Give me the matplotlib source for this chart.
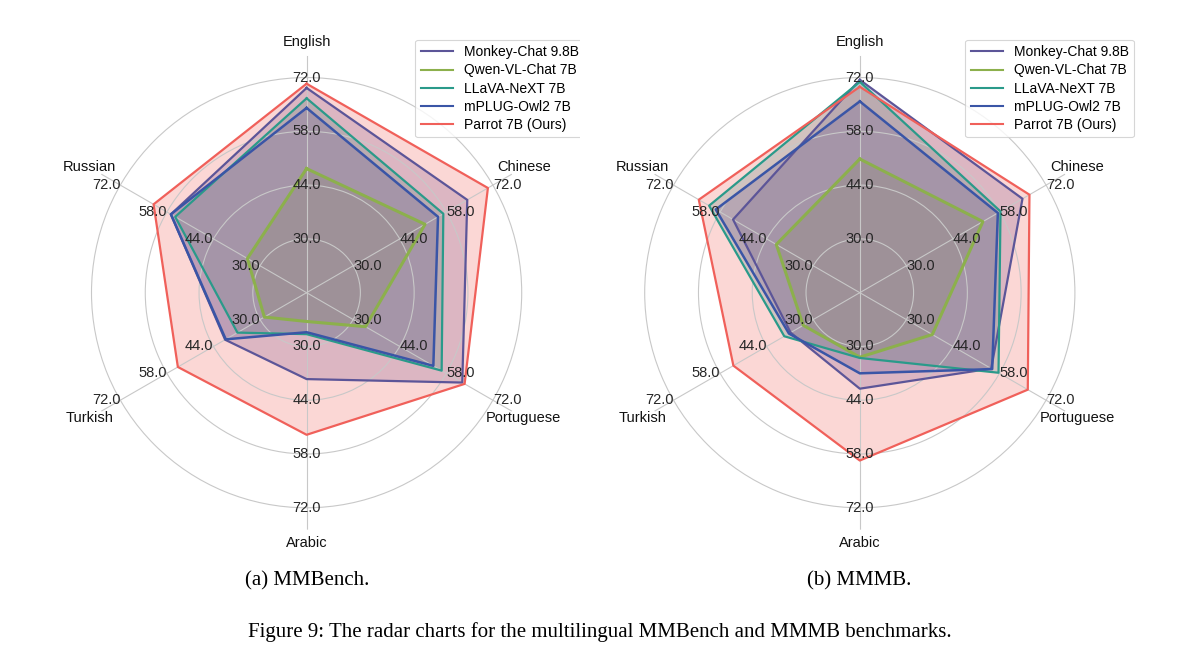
import numpy as np
import matplotlib.pyplot as plt
from matplotlib.patches import Rectangle

plt.rcParams['font.family'] = ['Liberation Sans', 'DejaVu Sans']

# axes clockwise from the top
langs = ["English", "Chinese", "Portuguese", "Arabic", "Turkish", "Russian"]
models = ["Monkey-Chat 9.8B", "Qwen-VL-Chat 7B", "LLaVA-NeXT 7B", "mPLUG-Owl2 7B", "Parrot 7B (Ours)"]
colors = ["#5c5598", "#8cb04c", "#2a9a8a", "#3a55a6", "#f0605a"]
widths = [1.6, 2.2, 1.6, 1.8, 1.6]

# (a) MMBench, values
mmbench_monkey = [69.3, 64.3, 62.8, 38.5, 40.5, 56.8]
mmbench_qwen = [48.3, 51.6, 33.7, 23.5, 28.7, 33.8]
mmbench_llava = [66.6, 57.1, 56.6, 26.8, 36.8, 55.5]
mmbench_mplug = [64.1, 55.5, 54.1, 26.3, 40.3, 56.8]
mmbench_parrot = [70.4, 70.5, 63.5, 53.0, 54.7, 62.0]

# (b) MMMB
mmmb_monkey = [71.4, 64.9, 55.5, 41.0, 36.8, 54.1]
mmmb_qwen = [50.8, 53.0, 37.8, 32.8, 33.0, 41.1]
mmmb_llava = [70.9, 58.3, 57.7, 33.0, 38.7, 61.3]
mmmb_mplug = [65.8, 57.5, 55.8, 37.0, 37.3, 59.3]
mmmb_parrot = [69.6, 67.0, 66.5, 59.7, 54.0, 64.4]

ticks = [30.0, 44.0, 58.0, 72.0]
rmin, rmax = 16, 77.7

angles = np.linspace(0, 2 * np.pi, len(langs), endpoint=False)


def radar(ax, series):
    ax.set_theta_offset(np.pi / 2)
    ax.set_theta_direction(-1)
    ax.set_ylim(rmin, rmax)
    ax.set_thetagrids(np.degrees(angles), labels=[])
    ax.set_rgrids(ticks, labels=[])
    ax.grid(color="#c8c8c8", lw=0.8)
    ax.spines["polar"].set_visible(False)
    ax.set_facecolor("white")

    lines = []
    for vals, name, c, w in zip(series, models, colors, widths):
        v = np.concatenate([vals, vals[:1]])
        a = np.concatenate([angles, angles[:1]])
        ax.fill(a, v, color=c, alpha=0.25, lw=0)
        ln, = ax.plot(a, v, color=c, lw=w, label=name)
        lines.append(ln)

    # tick values on every spoke
    for ang in angles:
        s = np.sin(ang)
        ha = "center" if abs(s) < 0.1 else ("left" if s > 0 else "right")
        for t in ticks:
            ax.text(ang, t, f"{t:.1f}", ha=ha, va="center", fontsize=10.5, color="#262626")
    for ang, name in zip(angles, langs):
        ax.text(ang, 81.3, name, ha="center", va="center", fontsize=10.5, color="#111111")
    return lines


fig = plt.figure(figsize=(12, 6.54), dpi=100)
ax1 = fig.add_axes([0.058, 0.19, 0.395, 0.725], projection="polar")
ax2 = fig.add_axes([0.519, 0.19, 0.395, 0.725], projection="polar")

l1 = radar(ax1, [mmbench_monkey, mmbench_qwen, mmbench_llava, mmbench_mplug, mmbench_parrot])
l2 = radar(ax2, [mmmb_monkey, mmmb_qwen, mmmb_llava, mmmb_mplug, mmmb_parrot])

for lines, x in [(l1, 0.493), (l2, 0.951)]:
    leg = fig.legend(handles=lines, loc="upper right", bbox_to_anchor=(x, 0.95),
                     fontsize=10, handlelength=2.3, frameon=True, fancybox=True,
                     borderpad=0.4, labelspacing=0.3)
    leg.get_frame().set_edgecolor("#cccccc")
    leg.get_frame().set_linewidth(0.8)
    for h in leg.get_lines():
        h.set_linewidth(1.5)

# the right panel covers the edge of the left legend
fig.add_artist(Rectangle((0.4835, 0.78), 0.03, 0.18, transform=fig.transFigure,
                         facecolor="white", edgecolor="none", zorder=10))

serif = ["Liberation Serif", "DejaVu Serif"]
fig.text(0.256, 0.1115, "(a) MMBench.", ha="center", va="center", fontsize=15, family=serif)
fig.text(0.716, 0.1115, "(b) MMMB.", ha="center", va="center", fontsize=15, family=serif)
fig.text(0.5, 0.034, "Figure 9: The radar charts for the multilingual MMBench and MMMB benchmarks.",
         ha="center", va="center", fontsize=15, family=serif)

fig.savefig("out.png", dpi=100, facecolor="white")
